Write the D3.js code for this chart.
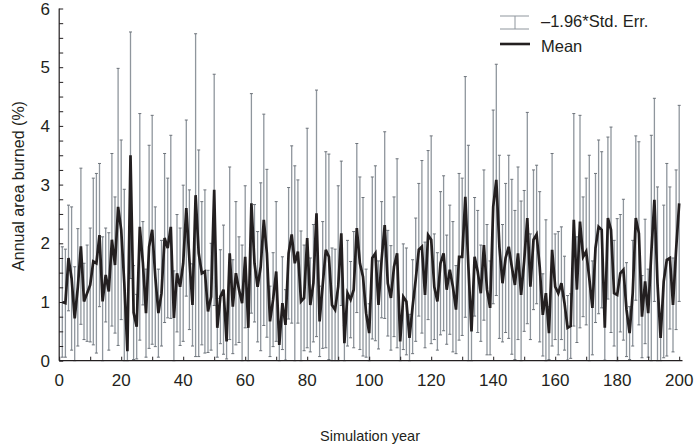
<!DOCTYPE html>
<html>
<head>
<meta charset="utf-8">
<script src="https://cdn.jsdelivr.net/npm/d3@7"></script>
<style>
  body { margin: 0; background: #fff; }
  text { font-family: "Liberation Sans", Arial, sans-serif; fill: #231f20; }
</style>
</head>
<body>
<svg width="697" height="448"></svg>
<script>
// mean annual area burned (%) for simulation years 1..200
var meanBurn = [
  1.0, 0.98, 1.75, 1.4, 0.72, 1.25, 1.95, 1.01, 1.15, 1.29,
  1.69, 1.66, 2.14, 1.01, 1.46, 1.18, 2.06, 1.63, 2.62, 2.23,
  1.32, 0.16, 3.5, 0.82, 0.58, 2.28, 1.66, 0.81, 1.94, 2.23,
  1.43, 0.81, 1.15, 2.09, 1.92, 2.28, 0.73, 1.49, 1.26, 1.66,
  2.6, 1.72, 0.95, 2.82, 1.83, 1.49, 1.52, 0.84, 1.09, 2.91,
  0.56, 1.09, 1.21, 0.33, 1.83, 0.92, 1.49, 1.21, 0.98, 1.77,
  0.56, 2.68, 1.66, 1.26, 1.6, 2.4, 1.83, 0.67, 1.04, 1.52,
  0.27, 0.98, 0.61, 1.83, 2.15, 1.66, 1.86, 1.01, 1.07, 2.09,
  0.95, 1.32, 2.51, 0.67, 1.29, 1.89, 1.77, 0.95, 0.87, 1.26,
  2.17, 0.3, 1.15, 1.04, 1.21, 2.26, 1.66, 1.43, 0.81, 0.47,
  1.75, 1.83, 0.95, 1.72, 2.31, 1.32, 1.07, 1.6, 1.83, 0.33,
  1.09, 1.01, 0.39, 0.92, 1.38, 1.89, 1.94, 1.12, 2.14, 2.06,
  1.26, 1.01, 1.66, 1.83, 1.21, 1.55, 1.26, 0.87, 1.77, 1.77,
  2.79, 1.6, 0.5, 1.77, 1.52, 1.15, 1.97, 1.21, 0.9, 2.62,
  3.08, 1.94, 1.32, 1.75, 1.94, 1.6, 1.29, 1.83, 1.12, 1.7,
  2.43, 1.26, 2.06, 2.15, 1.6, 0.78, 1.15, 0.47, 1.89, 1.26,
  1.15, 1.32, 0.98, 0.56, 0.59, 2.4, 1.21, 2.37, 1.77, 1.86,
  1.4, 0.9, 1.92, 2.28, 2.23, 0.56, 2.43, 2.23, 1.15, 1.12,
  1.49, 1.55, 0.87, 0.47, 1.15, 2.43, 2.17, 0.75, 1.35, 0.81,
  1.83, 2.74, 1.32, 0.39, 1.35, 1.72, 1.75, 0.95, 1.89, 2.68
];
// 1.96 * standard error for each year
var errHalf = [
  0.94, 0.92, 0.9, 1.22, 0.88, 1.0, 1.33, 0.65, 0.82, 0.97,
  1.42, 1.53, 1.22, 1.1, 0.8, 1.0, 1.47, 1.16, 2.36, 1.53,
  1.6, 0.3, 2.1, 0.8, 0.55, 1.93, 0.71, 0.75, 1.73, 1.95,
  1.19, 0.75, 0.9, 1.44, 1.19, 1.56, 0.8, 1.0, 1.0, 1.33,
  1.5, 1.19, 0.7, 2.75, 1.76, 1.22, 1.39, 0.7, 0.91, 1.97,
  0.5, 0.8, 1.1, 0.3, 1.47, 0.8, 1.22, 0.9, 0.99, 1.21,
  0.6, 1.87, 1.0, 0.94, 1.43, 1.8, 1.43, 0.6, 0.8, 1.19,
  0.3, 0.79, 0.6, 1.12, 1.51, 1.66, 1.22, 1.2, 0.9, 1.87,
  0.8, 1.0, 2.1, 0.6, 1.08, 1.67, 1.75, 0.97, 1.03, 1.72,
  1.23, 0.3, 0.9, 0.65, 0.99, 1.44, 1.47, 1.35, 0.75, 0.5,
  1.38, 1.49, 0.75, 0.99, 1.59, 0.9, 0.89, 1.19, 1.61, 0.35,
  0.9, 0.91, 0.4, 0.8, 1.05, 1.13, 1.47, 0.9, 1.44, 1.77,
  0.9, 0.83, 1.22, 1.32, 0.93, 1.1, 1.11, 0.75, 1.42, 1.34,
  2.05, 2.07, 0.5, 1.01, 1.04, 0.82, 1.28, 1.11, 0.8, 1.65,
  1.97, 1.56, 1.0, 1.27, 1.56, 1.49, 1.27, 1.47, 1.6, 1.2,
  1.8, 0.9, 1.19, 1.18, 1.28, 0.7, 1.25, 0.45, 1.64, 0.9,
  1.05, 0.96, 0.8, 0.55, 0.55, 1.81, 0.9, 1.81, 1.02, 1.25,
  2.1, 0.8, 1.27, 1.48, 1.33, 0.55, 1.38, 1.75, 0.9, 1.3,
  1.0, 1.2, 0.8, 0.45, 0.9, 1.4, 1.56, 0.7, 1.06, 0.75,
  2.01, 1.73, 1.64, 0.4, 1.3, 1.64, 1.21, 0.8, 1.36, 1.67
];
var yTicks = [0, 1, 2, 3, 4, 5, 6];
var xTicks = [0, 20, 40, 60, 80, 100, 120, 140, 160, 180, 200];
var legendLabels = ["\u20131.96*Std. Err.", "Mean"];

var svg = d3.select("svg");
var barColor = "#8f969d";
var lineColor = "#231f20";

var x = d3.scaleLinear().domain([0, 200]).range([59.2, 679.2]);
var y = d3.scaleLinear().domain([0, 6]).range([360.7, 8.5]);

var data = meanBurn.map(function(m, i) {
  return {year: i + 1, mean: m, lo: Math.max(0, m - errHalf[i]), hi: m + errHalf[i]};
});

// error bars
var bars = svg.append("g").attr("class", "errbars");
bars.selectAll("line.v").data(data).enter().append("line")
  .attr("class", "v")
  .attr("x1", function(d) { return x(d.year); })
  .attr("x2", function(d) { return x(d.year); })
  .attr("y1", function(d) { return y(d.lo); })
  .attr("y2", function(d) { return y(d.hi); })
  .attr("stroke", barColor).attr("stroke-width", 1.3);
["hi", "lo"].forEach(function(k) {
  bars.selectAll("line.c" + k).data(data).enter().append("line")
    .attr("class", "c" + k)
    .attr("x1", function(d) { return x(d.year) - 1.5; })
    .attr("x2", function(d) { return x(d.year) + 1.5; })
    .attr("y1", function(d) { return y(d[k]); })
    .attr("y2", function(d) { return y(d[k]); })
    .attr("stroke", "#6d737a").attr("stroke-width", 1);
});

// mean line
var line = d3.line()
  .x(function(d) { return x(d.year); })
  .y(function(d) { return y(d.mean); });
svg.append("path").datum(data)
  .attr("d", line)
  .attr("fill", "none")
  .attr("stroke", lineColor)
  .attr("stroke-width", 2.7)
  .attr("stroke-linejoin", "miter");

// axes (ticks inside)
var xAxis = d3.axisBottom(x).tickValues(d3.range(0, 201, 10)).tickSize(-4).tickFormat("");
var gx = svg.append("g").attr("transform", "translate(0," + y(0) + ")").call(xAxis);
gx.select(".domain").attr("d", "M59.2,0H682.5");
var yAxis = d3.axisLeft(y).tickValues(d3.range(0, 6.01, 0.25)).tickSize(-4).tickFormat("");
var gy = svg.append("g").attr("transform", "translate(" + x(0) + ",0)").call(yAxis);
gy.select(".domain").attr("d", "M0," + y(0) + "V" + y(6));
svg.selectAll(".tick line").attr("stroke", "#231f20").attr("stroke-width", 1);
svg.selectAll(".domain").attr("stroke", "#231f20").attr("stroke-width", 1.2);

svg.append("g").selectAll("text").data(xTicks).enter().append("text")
  .attr("x", function(d) { return x(d); })
  .attr("y", 386)
  .attr("text-anchor", "middle")
  .style("font-size", "17px")
  .text(function(d) { return d; });

svg.append("g").selectAll("text").data(yTicks).enter().append("text")
  .attr("x", 50)
  .attr("y", function(d) { return y(d) + 6; })
  .attr("text-anchor", "end")
  .style("font-size", "17px")
  .text(function(d) { return d; });

svg.append("text")
  .attr("transform", "translate(24,186) rotate(-90)")
  .attr("text-anchor", "middle")
  .style("font-size", "16px")
  .text("Annual area burned (%)");

svg.append("text")
  .attr("x", 370).attr("y", 441)
  .attr("text-anchor", "middle")
  .style("font-size", "14.5px")
  .text("Simulation year");

// legend
var lg = svg.append("g");
lg.append("line").attr("x1", 500).attr("x2", 529).attr("y1", 16).attr("y2", 16).attr("stroke", barColor);
lg.append("line").attr("x1", 500).attr("x2", 529).attr("y1", 29).attr("y2", 29).attr("stroke", barColor);
lg.append("line").attr("x1", 515).attr("x2", 515).attr("y1", 16).attr("y2", 29).attr("stroke", barColor);
lg.append("line").attr("x1", 500).attr("x2", 530).attr("y1", 44).attr("y2", 44).attr("stroke", lineColor).attr("stroke-width", 2.6);
lg.selectAll("text").data(legendLabels).enter().append("text")
  .attr("x", 541)
  .attr("y", function(d, i) { return 27 + i * 25; })
  .style("font-size", "16.5px")
  .text(function(d) { return d; });
</script>
</body>
</html>
